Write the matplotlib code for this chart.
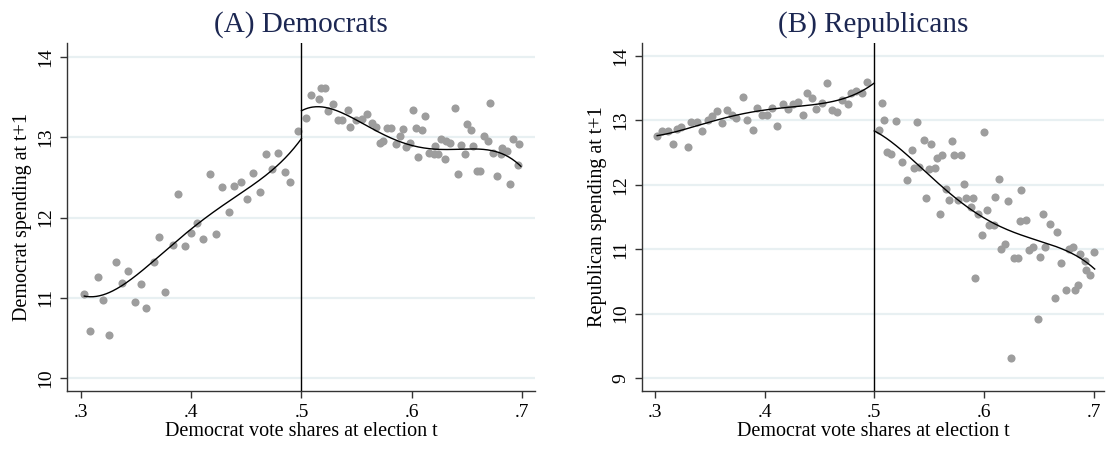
import numpy as np
import matplotlib
matplotlib.use("Agg")
import matplotlib.pyplot as plt

plt.rcParams['font.family'] = ['Liberation Serif', 'DejaVu Serif']

# panel A: democrat spending, binned means
dem_left_x = [0.303, 0.308, 0.315, 0.320, 0.325, 0.332, 0.337, 0.343, 0.349, 0.354, 0.359, 0.366,
              0.371, 0.376, 0.383, 0.388, 0.394, 0.400, 0.405, 0.411, 0.417, 0.422, 0.428, 0.434,
              0.439, 0.445, 0.451, 0.456, 0.462, 0.468, 0.473, 0.479, 0.485, 0.490, 0.497]
dem_left_y = [11.05, 10.59, 11.26, 10.97, 10.54, 11.45, 11.18, 11.33, 10.95, 11.17, 10.88, 11.45,
              11.76, 11.07, 11.66, 12.29, 11.65, 11.81, 11.93, 11.73, 12.54, 11.80, 12.38, 12.07,
              12.40, 12.44, 12.23, 12.55, 12.32, 12.79, 12.61, 12.80, 12.57, 12.44, 13.08]
dem_right_x = [0.504, 0.509, 0.516, 0.518, 0.521, 0.524, 0.529, 0.533, 0.537, 0.542, 0.544, 0.549,
               0.555, 0.559, 0.564, 0.568, 0.571, 0.574, 0.578, 0.581, 0.586, 0.589, 0.592, 0.595,
               0.598, 0.601, 0.604, 0.606, 0.609, 0.612, 0.616, 0.620, 0.621, 0.624, 0.627, 0.630,
               0.631, 0.635, 0.639, 0.642, 0.645, 0.648, 0.650, 0.654, 0.656, 0.659, 0.662, 0.666,
               0.669, 0.671, 0.674, 0.677, 0.681, 0.682, 0.686, 0.689, 0.692, 0.696, 0.697]
dem_right_y = [13.24, 13.53, 13.48, 13.61, 13.61, 13.33, 13.42, 13.22, 13.22, 13.34, 13.13, 13.21,
               13.23, 13.29, 13.18, 13.13, 12.93, 12.95, 13.12, 13.12, 12.92, 13.02, 13.10, 12.88,
               12.93, 13.34, 13.12, 12.75, 13.09, 13.27, 12.80, 12.79, 12.89, 12.79, 12.98, 12.73,
               12.96, 12.93, 13.36, 12.54, 12.90, 12.79, 13.16, 13.09, 12.89, 12.58, 12.58, 13.02,
               12.96, 13.43, 12.80, 12.52, 12.79, 12.87, 12.83, 12.42, 12.98, 12.66, 12.92]

# panel A: fitted polynomial, sampled along each side
dem_fit_left_x = [0.303, 0.320, 0.341, 0.365, 0.381, 0.408, 0.432, 0.456, 0.474, 0.500]
dem_fit_left_y = [11.03, 11.02, 11.20, 11.45, 11.64, 11.95, 12.18, 12.39, 12.62, 12.98]
dem_fit_right_x = [0.500, 0.516, 0.530, 0.548, 0.566, 0.584, 0.602, 0.620, 0.638, 0.663, 0.681, 0.699]
dem_fit_right_y = [13.33, 13.38, 13.35, 13.22, 13.10, 12.97, 12.89, 12.86, 12.85, 12.85, 12.80, 12.64]

# panel B: republican spending, binned means
rep_left_x = [0.302, 0.306, 0.312, 0.316, 0.320, 0.324, 0.330, 0.333, 0.338, 0.343, 0.348, 0.352,
              0.357, 0.361, 0.366, 0.370, 0.374, 0.380, 0.384, 0.389, 0.393, 0.398, 0.402, 0.407,
              0.411, 0.417, 0.421, 0.426, 0.430, 0.435, 0.439, 0.443, 0.447, 0.452, 0.457, 0.461,
              0.466, 0.471, 0.476, 0.479, 0.483, 0.489, 0.493]
rep_left_y = [12.75, 12.84, 12.83, 12.64, 12.87, 12.89, 12.58, 12.98, 12.98, 12.83, 13.01, 13.07,
              13.14, 12.96, 13.16, 13.09, 13.04, 13.36, 13.00, 12.85, 13.19, 13.08, 13.08, 13.19,
              12.92, 13.26, 13.17, 13.26, 13.29, 13.08, 13.43, 13.35, 13.18, 13.27, 13.58, 13.16,
              13.13, 13.31, 13.25, 13.43, 13.45, 13.42, 13.59]
rep_right_x = [0.504, 0.507, 0.509, 0.512, 0.515, 0.520, 0.525, 0.530, 0.534, 0.536, 0.539, 0.541,
               0.545, 0.547, 0.550, 0.552, 0.555, 0.557, 0.560, 0.562, 0.565, 0.568, 0.571, 0.573,
               0.576, 0.579, 0.582, 0.584, 0.588, 0.590, 0.592, 0.595, 0.598, 0.600, 0.603, 0.605,
               0.609, 0.610, 0.614, 0.616, 0.619, 0.622, 0.625, 0.627, 0.631, 0.633, 0.634, 0.638,
               0.641, 0.645, 0.649, 0.651, 0.654, 0.656, 0.660, 0.665, 0.667, 0.670, 0.675, 0.678,
               0.681, 0.683, 0.686, 0.688, 0.692, 0.693, 0.697, 0.700]
rep_right_y = [12.85, 13.27, 13.01, 12.51, 12.48, 12.99, 12.35, 12.08, 12.54, 12.26, 12.98, 12.27,
               12.70, 11.80, 12.25, 12.63, 12.26, 12.41, 11.55, 12.46, 11.93, 11.76, 12.68, 12.46,
               11.76, 12.46, 12.01, 11.79, 11.65, 11.79, 10.56, 11.55, 11.22, 12.82, 11.61, 11.38,
               11.38, 11.81, 12.09, 11.00, 11.08, 11.75, 9.31, 10.86, 10.86, 11.44, 11.92, 11.46,
               10.99, 11.04, 9.91, 10.88, 11.55, 11.04, 11.39, 10.24, 11.27, 10.78, 10.37, 11.00,
               11.04, 10.37, 10.44, 10.93, 10.81, 10.68, 10.60, 10.95]

# panel B: fitted polynomial, sampled along each side
rep_fit_left_x = [0.302, 0.323, 0.347, 0.371, 0.395, 0.420, 0.444, 0.468, 0.486, 0.500]
rep_fit_left_y = [12.76, 12.85, 12.95, 13.07, 13.15, 13.20, 13.24, 13.32, 13.43, 13.58]
rep_fit_right_x = [0.500, 0.522, 0.562, 0.592, 0.622, 0.653, 0.683, 0.701]
rep_fit_right_y = [12.84, 12.57, 11.97, 11.58, 11.30, 11.09, 10.94, 10.68]

x_ticks = [0.3, 0.4, 0.5, 0.6, 0.7]
x_tick_labels = ['.3', '.4', '.5', '.6', '.7']
cutoff = 0.5

dot_color = '#9d9d9d'
grid_color = '#e8f0f2'
title_color = '#1c2752'


def fit_line(ax, x, y):
    # quartic through the sampled fit values
    coef = np.polyfit(x, y, 4)
    xs = np.linspace(min(x), max(x), 200)
    ax.plot(xs, np.polyval(coef, xs), color='black', lw=1.0, zorder=3)


def panel(ax, title, ylabel, lx, ly, rx, ry, fits, yticks, ylim, xlim):
    ax.scatter(lx, ly, s=34, color=dot_color, linewidths=0, zorder=2)
    ax.scatter(rx, ry, s=34, color=dot_color, linewidths=0, zorder=2)
    for fx, fy in fits:
        fit_line(ax, fx, fy)
    ax.axvline(cutoff, color='black', lw=1.0, zorder=4)
    ax.set_xlim(xlim)
    ax.set_ylim(ylim)
    ax.set_xticks(x_ticks)
    ax.set_xticklabels(x_tick_labels)
    ax.set_yticks(yticks)
    ax.set_yticklabels([str(t) for t in yticks], rotation=90, va='center')
    for t in yticks:
        ax.axhline(t, color=grid_color, lw=1.6, zorder=0)
    for s in ['top', 'right']:
        ax.spines[s].set_visible(False)
    for s in ['left', 'bottom']:
        ax.spines[s].set_color('#333333')
        ax.spines[s].set_linewidth(1.0)
    ax.tick_params(direction='out', length=5, width=1.0, color='#333333', labelsize=14, pad=4)
    ax.set_title(title, fontsize=21, color=title_color, pad=8)
    ax.set_xlabel('Democrat vote shares at election t', fontsize=14.5, labelpad=1)
    ax.set_ylabel(ylabel, fontsize=14.5, labelpad=4)


fig = plt.figure(figsize=(11.06, 4.5), dpi=100)
ax1 = fig.add_axes([0.0606, 0.1311, 0.4231, 0.7733])
ax2 = fig.add_axes([0.5805, 0.1311, 0.4177, 0.7733])

panel(ax1, '(A) Democrats', 'Democrat spending at t+1',
      dem_left_x, dem_left_y, dem_right_x, dem_right_y,
      [(dem_fit_left_x, dem_fit_left_y), (dem_fit_right_x, dem_fit_right_y)],
      [10, 11, 12, 13, 14], (9.84, 14.175), (0.2873, 0.7118))
panel(ax2, '(B) Republicans', 'Republican spending at t+1',
      rep_left_x, rep_left_y, rep_right_x, rep_right_y,
      [(rep_fit_left_x, rep_fit_left_y), (rep_fit_right_x, rep_fit_right_y)],
      [9, 10, 11, 12, 13, 14], (8.80, 14.2), (0.2882, 0.7095))

fig.savefig('out.png', dpi=100)
